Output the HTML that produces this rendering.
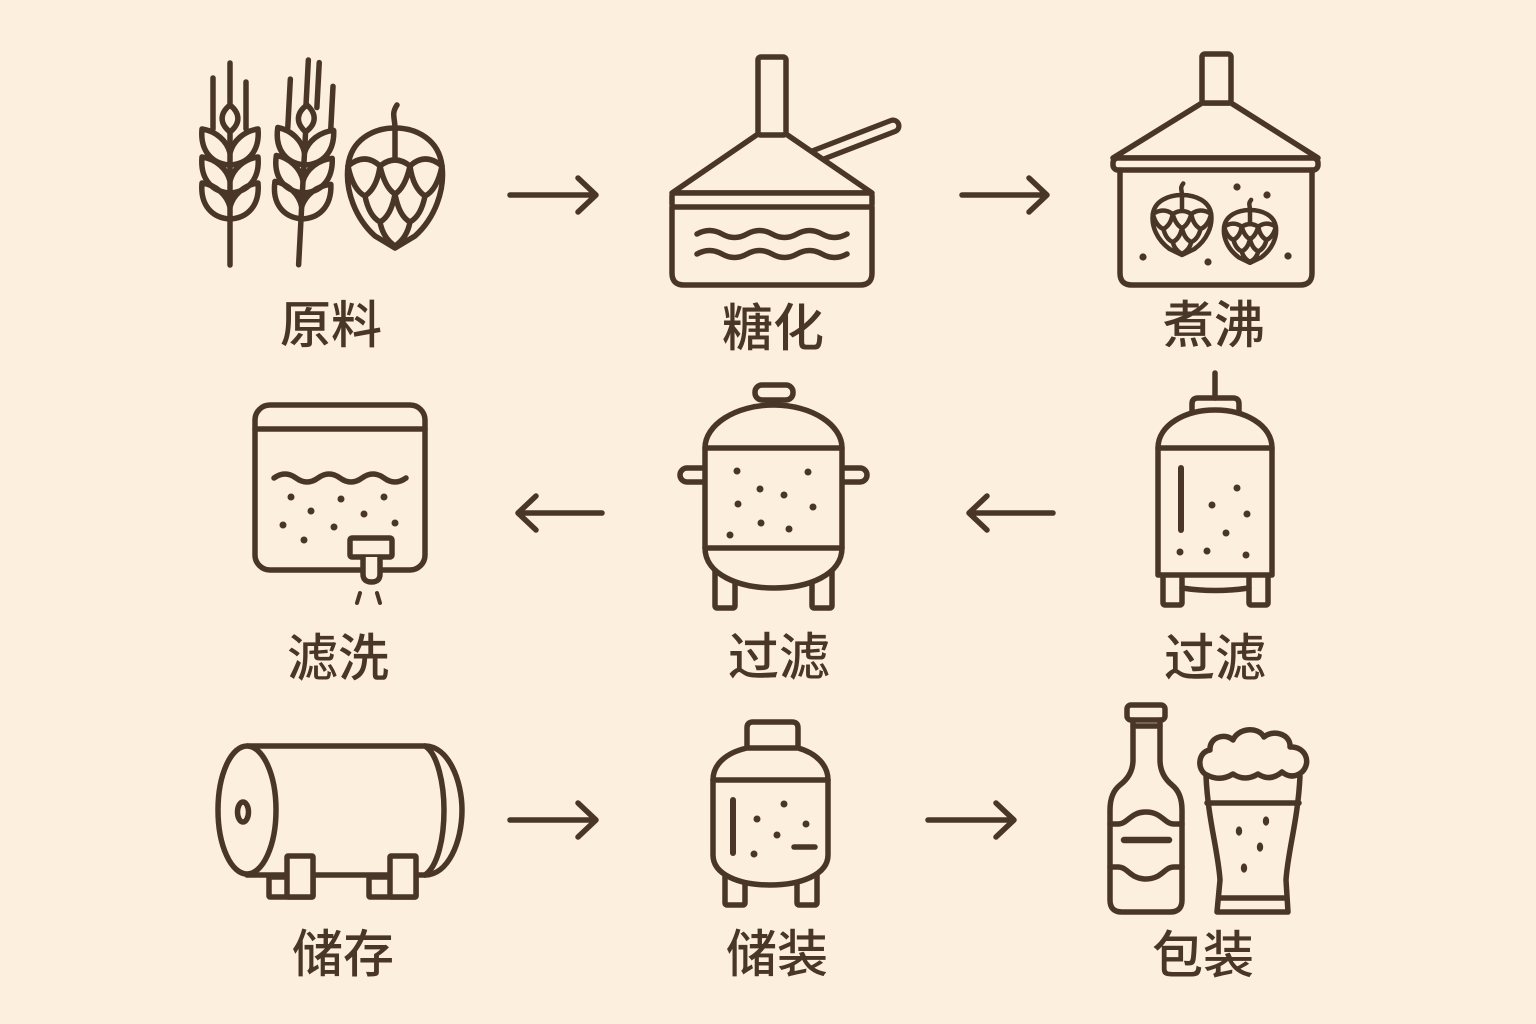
<!DOCTYPE html>
<html><head><meta charset="utf-8"><style>
html,body{margin:0;padding:0;background:#fcefdd;}
svg{display:block;}
text{font-family:"Liberation Sans","Noto Sans CJK SC",sans-serif;font-size:51px;font-weight:500;fill:#4a3628;}
</style></head><body>
<svg width="1536" height="1024" viewBox="0 0 1536 1024" xmlns="http://www.w3.org/2000/svg">
<rect width="1536" height="1024" fill="#fcefdd"/>
<g fill="none" stroke="#4a3628" stroke-width="5.5" stroke-linecap="round" stroke-linejoin="round">

<!-- ===== Icon 1: wheat + hop ===== -->
<g transform="translate(230,105)">
  <path d="M0,-42 V2 M-17,-27 V24 M16,-23 V24"/>
  <path d="M0,24 V160"/>
  <path d="M0,0 C-10,8 -11,18 0,27 C11,18 10,8 0,0 Z" fill="#fcefdd"/>
  <path d="M0,60 C-18,59 -30,46 -28,24 C-14,26 -3,36 0,48 C3,36 14,26 28,24 C30,46 18,59 0,60"/>
  <path d="M0,88 C-18,87 -30,74 -28,52 C-14,54 -3,64 0,76 C3,64 14,54 28,52 C30,74 18,87 0,88"/>
  <path d="M0,114 C-18,113 -30,100 -28,78 C-14,80 -3,90 0,102 C3,90 14,80 28,78 C30,100 18,113 0,114"/>
</g>
<g transform="translate(307,105) rotate(3)">
  <path d="M-18,-25 V24 M-1,-45 V2 M10,-43 V2 M25,-20 V24"/>
  <path d="M0,24 V160"/>
  <path d="M0,0 C-10,8 -11,18 0,27 C11,18 10,8 0,0 Z" fill="#fcefdd"/>
  <path d="M0,60 C-18,59 -30,46 -28,24 C-14,26 -3,36 0,48 C3,36 14,26 28,24 C30,46 18,59 0,60"/>
  <path d="M0,88 C-18,87 -30,74 -28,52 C-14,54 -3,64 0,76 C3,64 14,54 28,52 C30,74 18,87 0,88"/>
  <path d="M0,114 C-18,113 -30,100 -28,78 C-14,80 -3,90 0,102 C3,90 14,80 28,78 C30,100 18,113 0,114"/>
</g>
<g transform="translate(395,128)">
  <path d="M0,0 C0,-10 -4,-14 2,-23"/>
  <path d="M0,0 C22,0 44,12 47,38 C50,62 40,90 20,108 L0,120 L-20,108 C-40,90 -50,62 -47,38 C-44,12 -22,0 0,0 Z"/>
  <path d="M0,0 V30 M-47,38 Q-30,24 -15,38 Q0,26 15,38 Q30,24 47,38"/>
  <path d="M-47,38 Q-42,62 -30,68 Q-18,60 -15,38 M-15,38 Q-10,60 0,66 Q10,60 15,38 M15,38 Q18,60 30,68 Q42,62 47,38"/>
  <path d="M-30,68 Q-26,88 -15,94 Q-4,88 0,66 M0,66 Q4,88 15,94 Q26,88 30,68"/>
  <path d="M-15,94 Q-12,110 0,118 M15,94 Q12,110 0,118"/>
</g>

<!-- ===== Icon 2: mash tun ===== -->
<path d="M805,160 L893,126" stroke-width="17"/>
<path d="M805,160 L893,126" stroke="#fcefdd" stroke-width="6.5"/>
<path d="M758,134 L672,193 H872 L786,134 Z" fill="#fcefdd"/>
<rect x="758" y="57" width="28" height="78" rx="3" fill="#fcefdd"/>
<rect x="672" y="193" width="200" height="14" rx="3" fill="#fcefdd"/>
<path d="M672,207 V273 Q672,285 684,285 H860 Q872,285 872,273 V207"/>
<path d="M697,234 q12.5,-7 25,0 t25,0 t25,0 t25,0 t25,0 t25,0"/>
<path d="M697,254 q12.5,-7 25,0 t25,0 t25,0 t25,0 t25,0 t25,0"/>

<!-- ===== Icon 3: kettle ===== -->
<path d="M1202,103 L1113,158 H1318 L1231,103 Z" fill="#fcefdd"/>
<rect x="1202" y="54" width="29" height="49" rx="3" fill="#fcefdd"/>
<rect x="1113" y="158" width="205" height="12" rx="5" fill="#fcefdd"/>
<path d="M1120,170 V273 Q1120,285 1132,285 H1300 Q1312,285 1312,273 V170"/>
<g transform="translate(1182,195) scale(0.62,0.5)">
  <path vector-effect="non-scaling-stroke" stroke-width="4.5" d="M0,0 C0,-10 -4,-14 2,-23"/>
  <path vector-effect="non-scaling-stroke" stroke-width="4.5" d="M0,0 C22,0 44,12 47,38 C50,62 40,90 20,108 L0,120 L-20,108 C-40,90 -50,62 -47,38 C-44,12 -22,0 0,0 Z"/>
  <path vector-effect="non-scaling-stroke" stroke-width="4.5" d="M0,0 V30 M-47,38 Q-30,24 -15,38 Q0,26 15,38 Q30,24 47,38"/>
  <path vector-effect="non-scaling-stroke" stroke-width="4.5" d="M-47,38 Q-42,62 -30,68 Q-18,60 -15,38 M-15,38 Q-10,60 0,66 Q10,60 15,38 M15,38 Q18,60 30,68 Q42,62 47,38"/>
  <path vector-effect="non-scaling-stroke" stroke-width="4.5" d="M-30,68 Q-26,88 -15,94 Q-4,88 0,66 M0,66 Q4,88 15,94 Q26,88 30,68"/>
  <path vector-effect="non-scaling-stroke" stroke-width="4.5" d="M-15,94 Q-12,110 0,118 M15,94 Q12,110 0,118"/>
</g>
<g transform="translate(1250,210) scale(0.55,0.44)">
  <path vector-effect="non-scaling-stroke" stroke-width="4.5" d="M0,0 C0,-10 -4,-14 2,-23"/>
  <path vector-effect="non-scaling-stroke" stroke-width="4.5" d="M0,0 C22,0 44,12 47,38 C50,62 40,90 20,108 L0,120 L-20,108 C-40,90 -50,62 -47,38 C-44,12 -22,0 0,0 Z"/>
  <path vector-effect="non-scaling-stroke" stroke-width="4.5" d="M0,0 V30 M-47,38 Q-30,24 -15,38 Q0,26 15,38 Q30,24 47,38"/>
  <path vector-effect="non-scaling-stroke" stroke-width="4.5" d="M-47,38 Q-42,62 -30,68 Q-18,60 -15,38 M-15,38 Q-10,60 0,66 Q10,60 15,38 M15,38 Q18,60 30,68 Q42,62 47,38"/>
  <path vector-effect="non-scaling-stroke" stroke-width="4.5" d="M-30,68 Q-26,88 -15,94 Q-4,88 0,66 M0,66 Q4,88 15,94 Q26,88 30,68"/>
  <path vector-effect="non-scaling-stroke" stroke-width="4.5" d="M-15,94 Q-12,110 0,118 M15,94 Q12,110 0,118"/>
</g>

<!-- ===== Icon 4: lauter tun ===== -->
<rect x="255" y="405" width="170" height="165" rx="15"/>
<path d="M255,429 H425"/>
<path d="M274,478 q11,-8 22,0 t22,0 t22,0 t22,0 t22,0 t22,0"/>
<rect x="350" y="538" width="42" height="19" rx="2" fill="#fcefdd"/>
<path d="M363,557 V574 Q363,582 371.5,582 Q380,582 380,574 V557" fill="#fcefdd"/>
<path d="M360,593 L357,603 M377,593 L380,603" stroke-width="4"/>

<!-- ===== Icon 5: filter vessel (middle) ===== -->
<rect x="680" y="468" width="32" height="14" rx="7" fill="#fcefdd"/>
<rect x="835" y="468" width="32" height="14" rx="7" fill="#fcefdd"/>
<rect x="715" y="565" width="20" height="43" rx="2" fill="#fcefdd"/>
<rect x="812" y="565" width="20" height="43" rx="2" fill="#fcefdd"/>
<rect x="755" y="385" width="38" height="15" rx="7" fill="#fcefdd"/>
<path d="M705,548 V448 C705,425 735,405 774,405 C812,405 842,425 842,448 V548 C842,575 808,588 774,588 C740,588 705,575 705,548 Z" fill="#fcefdd"/>
<path d="M705,448 H842 M705,548 H842"/>

<!-- ===== Icon 6: tall tank (right) ===== -->
<path d="M1215,373 V398"/>
<path d="M1192,412 V404 Q1192,398 1198,398 H1233 Q1239,398 1239,404 V412"/>
<rect x="1163" y="570" width="19" height="35" rx="2" fill="#fcefdd"/>
<rect x="1249" y="570" width="19" height="35" rx="2" fill="#fcefdd"/>
<path d="M1158,575 V448 C1158,425 1185,410 1215,410 C1245,410 1272,425 1272,448 V575 Z" fill="#fcefdd"/>
<path d="M1158,448 H1272"/>
<path d="M1182,588 Q1215,593 1249,588"/>
<path d="M1181,468 V530" stroke-width="6"/>

<!-- ===== Icon 7: horizontal storage tank ===== -->
<path d="M425,746 C448,746 462,780 462,810 C462,842 448,875 425,875"/>
<path d="M425,746 C438,754 444,785 444,810 C444,838 438,866 425,875"/>
<path d="M247,746 H425 M247,875 H425"/>
<ellipse cx="247" cy="810" rx="29" ry="64" fill="#fcefdd"/>
<ellipse cx="243" cy="812" rx="5.5" ry="10"/>
<rect x="269" y="877" width="44" height="20" rx="1" fill="#fcefdd"/>
<rect x="287" y="856" width="26" height="41" rx="1" fill="#fcefdd"/>
<rect x="369" y="877" width="47" height="20" rx="1" fill="#fcefdd"/>
<rect x="390" y="856" width="26" height="41" rx="1" fill="#fcefdd"/>

<!-- ===== Icon 8: 储装 tank ===== -->
<rect x="725" y="862" width="20" height="43" rx="2" fill="#fcefdd"/>
<rect x="797" y="862" width="20" height="43" rx="2" fill="#fcefdd"/>
<path d="M747,748 V728 Q747,722 753,722 H792 Q798,722 798,728 V748"/>
<path d="M747,748 C725,753 713,765 713,780 V855 C713,875 740,885 770,885 C800,885 828,875 828,855 V780 C828,765 816,753 798,748 Z" fill="#fcefdd"/>
<path d="M713,780 H828"/>
<path d="M733,800 V853" stroke-width="6"/>
<path d="M794,847 H815"/>

<!-- ===== Icon 9: bottle + glass ===== -->
<rect x="1127" y="705" width="38" height="15" rx="4"/>
<path d="M1133,726 H1160"/>
<path d="M1133,720 V760 Q1133,775 1120,785 Q1110,793 1110,810 V900 Q1110,912 1122,912 H1170 Q1182,912 1182,900 V810 Q1182,793 1172,785 Q1160,775 1160,760 V720"/>
<path d="M1110,824 H1118 C1128,824 1130,812 1146,812 C1162,812 1164,824 1174,824 H1182"/>
<path d="M1110,867 H1118 C1128,867 1130,879 1146,879 C1162,879 1164,867 1174,867 H1182"/>
<path d="M1124,840 H1169" stroke-width="6.5"/>

<path d="M1206,776 C1208,820 1218,850 1220,880 L1217,912 H1288 L1286,880 C1288,850 1298,820 1300,776"/>
<path d="M1207,803 H1299 M1219,898 H1286"/>
<path d="M1207,775 C1197,771 1197,752 1210,750 C1209,738 1224,732 1233,740 C1238,728 1258,726 1264,737 C1273,729 1291,734 1290,747 C1305,746 1312,762 1302,772 Q1292,780 1282,772 Q1270,782 1258,774 Q1245,782 1233,774 Q1220,782 1207,775 Z" fill="#fcefdd"/>

<!-- ===== Arrows ===== -->
<path d="M510,195 H595 M578,178 L596,195 L578,212"/>
<path d="M962,195 H1046 M1029,178 L1047,195 L1029,212"/>
<path d="M602,513 H519 M536,496 L518,513 L536,530"/>
<path d="M1053,513 H970 M987,496 L969,513 L987,530"/>
<path d="M510,820 H595 M578,803 L596,820 L578,837"/>
<path d="M928,820 H1013 M996,803 L1014,820 L996,837"/>
</g>

<!-- dots -->
<g fill="#4a3628">
<circle cx="1237" cy="187" r="3.6"/><circle cx="1267" cy="195" r="3.6"/><circle cx="1143" cy="257" r="3.6"/><circle cx="1208" cy="262" r="3.6"/><circle cx="1288" cy="256" r="3.6"/>
<circle cx="291" cy="497" r="3.5"/><circle cx="341" cy="499" r="3.5"/><circle cx="384" cy="497" r="3.5"/><circle cx="311" cy="511" r="3.5"/><circle cx="364" cy="514" r="3.5"/><circle cx="283" cy="525" r="3.5"/><circle cx="334" cy="527" r="3.5"/><circle cx="395" cy="523" r="3.5"/><circle cx="304" cy="540" r="3.5"/>
<circle cx="737" cy="471" r="3.5"/><circle cx="808" cy="472" r="3.5"/><circle cx="760" cy="489" r="3.5"/><circle cx="784" cy="495" r="3.5"/><circle cx="738" cy="504" r="3.5"/><circle cx="813" cy="507" r="3.5"/><circle cx="761" cy="523" r="3.5"/><circle cx="789" cy="529" r="3.5"/><circle cx="730" cy="535" r="3.5"/>
<circle cx="1237" cy="488" r="3.5"/><circle cx="1212" cy="505" r="3.5"/><circle cx="1247" cy="514" r="3.5"/><circle cx="1226" cy="533" r="3.5"/><circle cx="1180" cy="552" r="3.5"/><circle cx="1207" cy="551" r="3.5"/><circle cx="1246" cy="555" r="3.5"/>
<circle cx="784" cy="804" r="3.5"/><circle cx="757" cy="819" r="3.5"/><circle cx="806" cy="824" r="3.5"/><circle cx="777" cy="835" r="3.5"/><circle cx="754" cy="854" r="3.5"/>
<ellipse cx="1239" cy="831" rx="3.2" ry="4.6"/><ellipse cx="1266" cy="821" rx="3.2" ry="4.6"/><ellipse cx="1260" cy="847" rx="3.2" ry="4.6"/><ellipse cx="1244" cy="868" rx="3.2" ry="4.6"/>
</g>

<!-- labels -->
<g text-anchor="middle">
<text x="331" y="343">原料</text>
<text x="773" y="346">糖化</text>
<text x="1214" y="343">煮沸</text>
<text x="338" y="676">滤洗</text>
<text x="779" y="675">过滤</text>
<text x="1215" y="676">过滤</text>
<text x="343" y="972">储存</text>
<text x="777" y="972">储装</text>
<text x="1203" y="973">包装</text>
</g>
</svg>
</body></html>
